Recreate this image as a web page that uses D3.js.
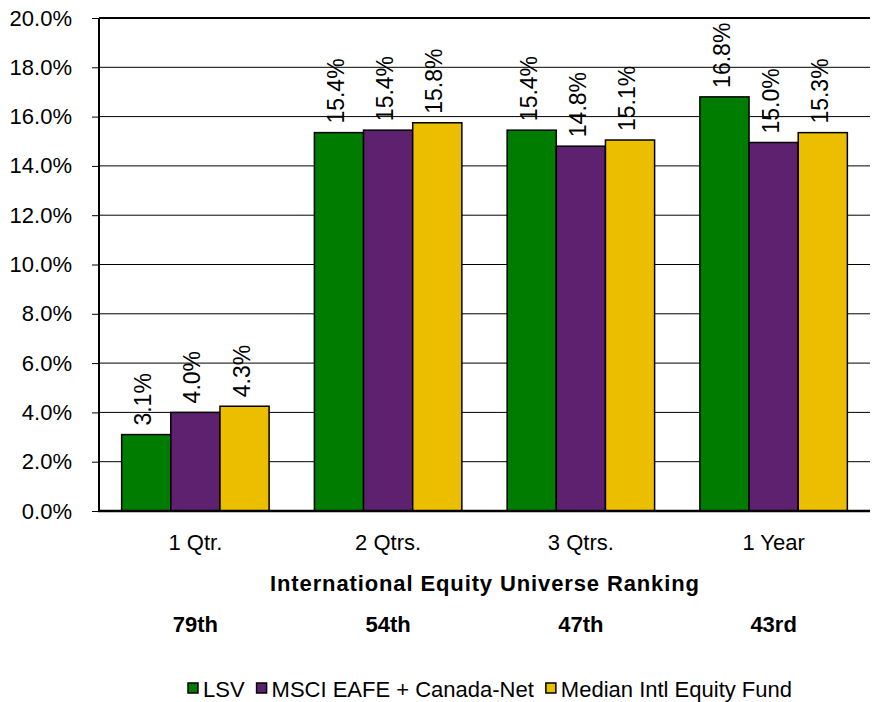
<!DOCTYPE html>
<html><head><meta charset="utf-8">
<script src="https://cdn.jsdelivr.net/npm/d3@7"></script>
<style>body{margin:0;background:#fff}svg{display:block;font-family:"Liberation Sans",Arial,sans-serif}</style>
</head><body><svg id="c" width="875" height="702"></svg>
<script>
const categories = ["1 Qtr.", "2 Qtrs.", "3 Qtrs.", "1 Year"];
const rankings = ["79th", "54th", "47th", "43rd"];
const seriesNames = ["LSV", "MSCI EAFE + Canada-Net", "Median Intl Equity Fund"];
const lsv = [3.1, 15.35, 15.45, 16.8];
const msci = [4.0, 15.45, 14.8, 14.95];
const median = [4.25, 15.75, 15.05, 15.35];
const lsvLabels = ["3.1%", "15.4%", "15.4%", "16.8%"];
const msciLabels = ["4.0%", "15.4%", "14.8%", "15.0%"];
const medianLabels = ["4.3%", "15.8%", "15.1%", "15.3%"];
const yTicks = [0, 2, 4, 6, 8, 10, 12, 14, 16, 18, 20];
const colors = ["#007D00", "#5E2170", "#EBBF00"];
const axisTitle = "International Equity Universe Ranking";

const svg = d3.select("#c");
const m = {l: 99, r: 870, t: 18, b: 511};
const x = d3.scaleBand().domain(categories).range([m.l, m.r]).paddingInner(0.235).paddingOuter(0.1175);
const xs = d3.scaleBand().domain([0,1,2]).range([0, x.bandwidth()]);
const y = d3.scaleLinear().domain([0, 20]).range([m.b, m.t]);

// gridlines
svg.append("g").selectAll("line").data(yTicks.filter(d => d > 0)).join("line")
  .attr("x1", m.l).attr("x2", m.r).attr("y1", d => y(d)).attr("y2", d => y(d))
  .attr("stroke", "#000").attr("stroke-width", d => d === 20 ? 2 : 1);

// y axis
const ya = svg.append("g").attr("transform", `translate(${m.l},0)`)
  .call(d3.axisLeft(y).tickValues(yTicks).tickFormat(d => d.toFixed(1) + "%").tickSize(7).tickPadding(20));
ya.select(".domain").attr("stroke-width", 2).attr("d", `M0,${m.t}V${m.b}`);
ya.selectAll("text").attr("font-size", 22).attr("font-family", "Liberation Sans, Arial").attr("fill", "#000");

const series = [lsv, msci, median];
const labels = [lsvLabels, msciLabels, medianLabels];
const data = [];
categories.forEach((c, i) => series.forEach((s, j) => data.push({c, j, v: s[i], lab: labels[j][i]})));

svg.append("g").selectAll("rect").data(data).join("rect")
  .attr("x", d => x(d.c) + xs(d.j)).attr("width", xs.bandwidth())
  .attr("y", d => y(d.v)).attr("height", d => y(0) - y(d.v))
  .attr("fill", d => colors[d.j]).attr("stroke", "#000").attr("stroke-width", 1.5);

svg.append("g").selectAll("text").data(data).join("text")
  .attr("transform", d => `translate(${x(d.c) + xs(d.j) + xs.bandwidth()/2 - 3},${y(d.v) - 9}) rotate(-90)`)
  .attr("dy", "0.35em").attr("font-size", 23).text(d => d.lab);

// x axis line
svg.append("line").attr("x1", m.l - 1).attr("x2", m.r).attr("y1", m.b).attr("y2", m.b)
  .attr("stroke", "#000").attr("stroke-width", 2.5);

// category labels
svg.append("g").selectAll("text").data(categories).join("text")
  .attr("x", d => x(d) + x.bandwidth()/2).attr("y", 550).attr("text-anchor", "middle")
  .attr("font-size", 22).text(d => d);

svg.append("text").attr("x", (m.l + m.r)/2).attr("y", 591).attr("text-anchor", "middle")
  .attr("font-size", 22).attr("font-weight", "bold")
  .attr("textLength", 429).attr("lengthAdjust", "spacing").text(axisTitle);

svg.append("g").selectAll("text").data(rankings).join("text")
  .attr("x", (d, i) => x(categories[i]) + x.bandwidth()/2).attr("y", 632).attr("text-anchor", "middle")
  .attr("font-size", 22).attr("font-weight", "bold").text(d => d);

// legend
const lg = svg.append("g");
let lx = 0;
seriesNames.forEach((n, i) => {
  lg.append("rect").attr("x", lx).attr("y", 683).attr("width", 10).attr("height", 10)
    .attr("fill", colors[i]).attr("stroke", "#000").attr("stroke-width", 1.5);
  const t = lg.append("text").attr("x", lx + 15).attr("y", 697).attr("font-size", 22).text(n);
  lx += 15 + t.node().getComputedTextLength() + 12;
});
const lw = lx - 12;
lg.attr("transform", `translate(${490 - lw/2},0)`);
</script></body></html>
